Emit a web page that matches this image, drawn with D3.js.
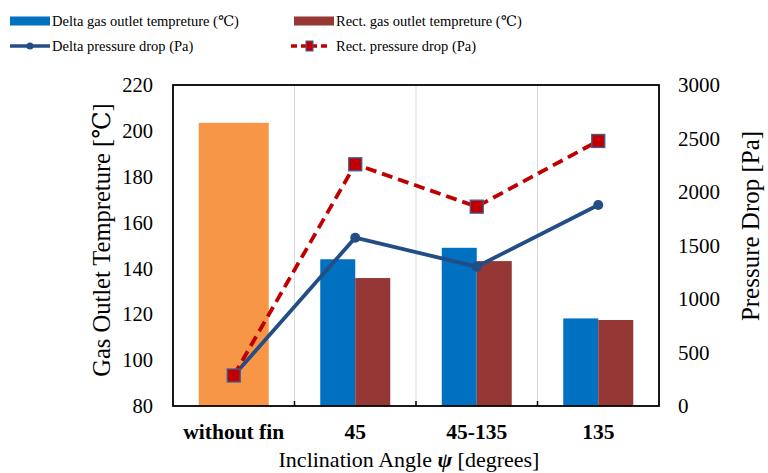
<!DOCTYPE html>
<html>
<head>
<meta charset="utf-8">
<script src="https://cdn.jsdelivr.net/npm/d3@7"></script>
<style>
  body { margin: 0; background: #fff; }
  svg text { font-family: "Liberation Serif", "DejaVu Serif", serif; fill: #000; }
</style>
</head>
<body>
<svg id="chart" width="768" height="473"></svg>
<script>
// data
const categories = ["without fin", "45", "45-135", "135"];
const noFinTemp = [203.5, null, null, null];
const deltaTemp = [null, 144, 149, 118.2];
const rectTemp = [null, 135.8, 143.2, 117.5];
const deltaDrop = [285, 1573, 1302, 1879];
const rectDrop = [285, 2259, 1863, 2477];
const leftTicks = [80, 100, 120, 140, 160, 180, 200, 220];
const rightTicks = [0, 500, 1000, 1500, 2000, 2500, 3000];

const m = {left: 173, right: 659, top: 85, bottom: 406};

const svg = d3.select("#chart");

const x = d3.scaleBand().domain(categories).range([m.left, m.right]);
const yL = d3.scaleLinear().domain([80, 220]).range([m.bottom, m.top]);
const yR = d3.scaleLinear().domain([0, 3000]).range([m.bottom, m.top]);

const blue = "#0070C0", brown = "#953735", orange = "#F79646";
const navy = "#234D85", red = "#C00000", mkEdge = "#3F5F95";

// grid lines at category boundaries
svg.append("g").selectAll("line")
  .data(categories.slice(1))
  .join("line")
  .attr("x1", d => x(d)).attr("x2", d => x(d))
  .attr("y1", m.top).attr("y2", m.bottom)
  .attr("stroke", "#d9d9d9").attr("stroke-width", 1);

const barW = 70;
// orange bar
svg.append("g").selectAll("rect")
  .data(categories.map((c, i) => [c, noFinTemp[i]]).filter(d => d[1] != null))
  .join("rect")
  .attr("x", d => x(d[0]) + x.bandwidth() / 2 - barW / 2)
  .attr("width", barW)
  .attr("y", d => yL(d[1]))
  .attr("height", d => m.bottom - yL(d[1]))
  .attr("fill", orange);

const pair = (arr, off, col) => {
  svg.append("g").selectAll("rect")
    .data(categories.map((c, i) => [c, arr[i]]).filter(d => d[1] != null))
    .join("rect")
    .attr("x", d => x(d[0]) + x.bandwidth() / 2 + off)
    .attr("width", barW / 2)
    .attr("y", d => yL(d[1]))
    .attr("height", d => m.bottom - yL(d[1]))
    .attr("fill", col);
};
pair(deltaTemp, -barW / 2, blue);
pair(rectTemp, 0, brown);

// lines
const cx = c => x(c) + x.bandwidth() / 2;
const line = d3.line().x(d => cx(d[0])).y(d => yR(d[1]));
const deltaPts = categories.map((c, i) => [c, deltaDrop[i]]);
const rectPts = categories.map((c, i) => [c, rectDrop[i]]);

svg.append("path").datum(deltaPts)
  .attr("fill", "none").attr("stroke", navy).attr("stroke-width", 3.8)
  .attr("d", line);
svg.append("g").selectAll("circle").data(deltaPts).join("circle")
  .attr("cx", d => cx(d[0])).attr("cy", d => yR(d[1])).attr("r", 5)
  .attr("fill", navy);

svg.append("path").datum(rectPts)
  .attr("fill", "none").attr("stroke", red).attr("stroke-width", 3.8)
  .attr("stroke-dasharray", "11,6")
  .attr("d", line);
svg.append("g").selectAll("rect").data(rectPts).join("rect")
  .attr("x", d => cx(d[0]) - 6.5).attr("y", d => yR(d[1]) - 6.5)
  .attr("width", 13).attr("height", 13)
  .attr("fill", red).attr("stroke", mkEdge).attr("stroke-width", 1.3);

// frame
svg.append("rect")
  .attr("x", m.left).attr("y", m.top)
  .attr("width", m.right - m.left).attr("height", m.bottom - m.top)
  .attr("fill", "none").attr("stroke", "#000").attr("stroke-width", 1.8);

// bottom inner ticks
svg.append("g").selectAll("line")
  .data(categories.slice(1))
  .join("line")
  .attr("x1", d => x(d)).attr("x2", d => x(d))
  .attr("y1", m.bottom).attr("y2", m.bottom - 5)
  .attr("stroke", "#000").attr("stroke-width", 1.5);

// axes labels
svg.append("g").selectAll("text").data(leftTicks).join("text")
  .attr("x", 153).attr("y", d => yL(d)).attr("dy", "0.35em")
  .attr("text-anchor", "end").attr("font-size", 20.5)
  .text(d => d);

svg.append("g").selectAll("text").data(rightTicks).join("text")
  .attr("x", 678).attr("y", d => yR(d)).attr("dy", "0.35em")
  .attr("text-anchor", "start").attr("font-size", 21)
  .text(d => d);

svg.append("g").selectAll("text").data(categories).join("text")
  .attr("x", d => cx(d)).attr("y", 439)
  .attr("text-anchor", "middle").attr("font-size", 21.5).attr("font-weight", "bold")
  .text(d => d);

const xt = svg.append("text")
  .attr("x", 409).attr("y", 467)
  .attr("text-anchor", "middle").attr("font-size", 22);
xt.append("tspan").text("Inclination Angle ");
xt.append("tspan").attr("font-style", "italic").attr("font-weight", "bold").text("ψ");
xt.append("tspan").text(" [degrees]");

svg.append("text")
  .attr("transform", "translate(110," + 240 + ") rotate(-90)")
  .attr("text-anchor", "middle").attr("font-size", 24.5)
  .text("Gas Outlet Tempreture [℃]");

svg.append("text")
  .attr("transform", "translate(759," + 226 + ") rotate(-90)")
  .attr("text-anchor", "middle").attr("font-size", 25)
  .text("Pressure Drop [Pa]");

// legend
const leg = svg.append("g");
const legItems = [
  {label: "Delta gas outlet tempreture (℃)", type: "bar", col: blue, lx: 10, ly: 21},
  {label: "Rect. gas outlet tempreture (℃)", type: "bar", col: brown, lx: 294, ly: 21},
  {label: "Delta pressure drop (Pa)", type: "line", col: navy, lx: 10, ly: 46},
  {label: "Rect. pressure drop (Pa)", type: "dash", col: red, lx: 291, ly: 46}
];
legItems.forEach(it => {
  if (it.type === "bar") {
    leg.append("rect").attr("x", it.lx).attr("y", it.ly - 4.5)
      .attr("width", 40).attr("height", 9).attr("fill", it.col);
  } else if (it.type === "line") {
    leg.append("line").attr("x1", it.lx).attr("x2", it.lx + 40)
      .attr("y1", it.ly).attr("y2", it.ly)
      .attr("stroke", it.col).attr("stroke-width", 3.5);
    leg.append("circle").attr("cx", it.lx + 20).attr("cy", it.ly).attr("r", 3.5).attr("fill", it.col);
  } else {
    leg.append("line").attr("x1", it.lx).attr("x2", it.lx + 37)
      .attr("y1", it.ly).attr("y2", it.ly)
      .attr("stroke", it.col).attr("stroke-width", 3.5).attr("stroke-dasharray", "6,4");
    leg.append("rect").attr("x", it.lx + 15).attr("y", it.ly - 5)
      .attr("width", 7).attr("height", 10)
      .attr("fill", it.col).attr("stroke", mkEdge).attr("stroke-width", 1);
  }
  leg.append("text").attr("x", it.type === "dash" ? it.lx + 45 : it.lx + 42)
    .attr("y", it.ly).attr("dy", "0.35em")
    .attr("font-size", 14.5).text(it.label);
});
</script>
</body>
</html>
